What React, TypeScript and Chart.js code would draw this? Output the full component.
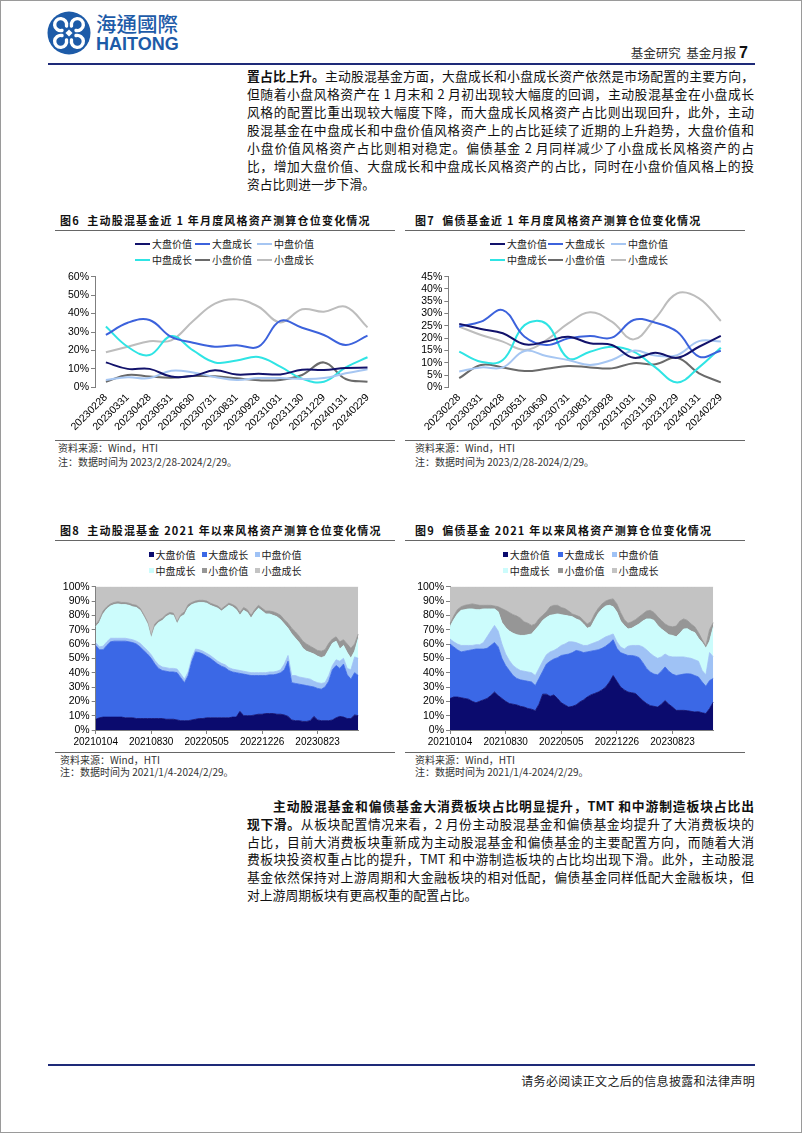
import React, { useEffect, useRef } from 'react';
import { Chart, registerables } from 'chart.js';

Chart.register(...registerables);

const SANS = '"Liberation Sans", Arial, sans-serif';
const CJK = '"Noto Sans CJK SC", "Liberation Sans", sans-serif';

// ---------------- data ----------------
const monthLabels = ['20230228', '20230331', '20230428', '20230531', '20230630', '20230731', '20230831', '20230928', '20231031', '20231130', '20231229', '20240131', '20240229'];
const styleNames = ['大盘价值', '大盘成长', '中盘价值', '中盘成长', '小盘价值', '小盘成长'];
const stackTickLabels = ['20210104', '20210830', '20220505', '20221226', '20230823'];
const stackTickEvery = 15;

// 图6 主动股混基金近1年 (%)
const f6LargeValue = [13.5, 10, 10, 5.8, 6.2, 9.2, 6.9, 7.4, 7, 9.5, 9.4, 10.5, 10.7];
const f6LargeGrowth = [28.4, 35, 36.5, 27.3, 24.2, 22, 22.8, 22, 36, 32.3, 28.4, 23, 28];
const f6MidValue = [4, 5.4, 5, 9, 8, 5.6, 4, 5, 5, 4.5, 5, 7.6, 9.8];
const f6MidGrowth = [33, 22, 17.5, 27.8, 20, 13.5, 14.5, 16.5, 11.2, 4.7, 3, 10.8, 16.3];
const f6SmallValue = [3, 6.7, 5.8, 5.2, 6.1, 6, 4.9, 3.8, 4, 6.7, 13.5, 4.5, 3];
const f6SmallGrowth = [19, 22, 25, 25.5, 36, 45.4, 47.7, 43.7, 35.2, 42.3, 41, 43.7, 32.5];

// 图7 偏债基金近1年 (%)
const f7LargeValue = [25.8, 23.7, 22, 17.5, 18.6, 20.6, 17.9, 17.2, 12, 14.1, 12, 16.5, 20.9];
const f7LargeGrowth = [24.7, 26.7, 31.4, 20.6, 17.2, 19.9, 20.9, 20.2, 27.4, 26.3, 22.6, 12.5, 14.9];
const f7MidValue = [6.4, 8.1, 8.1, 14.8, 12.7, 11.1, 9.1, 11.1, 14.9, 12.9, 13.1, 18.8, 18.6];
const f7MidGrowth = [14.5, 10.4, 11.1, 25.3, 25.8, 11.8, 14.5, 16.5, 14.5, 8.1, 2, 8.1, 16.1];
const f7SmallValue = [3.7, 9.1, 8.1, 6.6, 7.5, 8.7, 8.1, 7.7, 9.8, 9.4, 12, 5.7, 2];
const f7SmallGrowth = [24.7, 21.3, 18.6, 15.2, 19.2, 26, 30.5, 26.7, 19.5, 28.1, 38.2, 36.2, 27];

// 图8 主动股混基金 2021年以来 (%)
const f8LargeValue = [7.5, 8.5, 9, 9, 9, 9, 9, 9, 8.5, 8.5, 8.5, 8, 8, 8, 8, 8, 8, 8, 8, 7.5, 7.5, 7.5, 7, 6.5, 6.5, 6.5, 7, 7.5, 8, 8, 8.5, 8.5, 8.5, 8.5, 8.5, 8.5, 8.5, 9, 9, 13, 10, 10, 10, 10.5, 11, 11, 11.5, 11.5, 11.5, 11, 11, 10.5, 9.5, 7, 6.5, 6.5, 6, 6, 6.5, 9.5, 7, 6.5, 6.5, 6.5, 7, 8.5, 9.5, 9, 8, 8, 10.5, 10];
const f8LargeGrowth = [51.5, 47.5, 47, 50, 52.5, 53, 53, 53, 53.5, 53, 52.5, 52, 50, 47.5, 45, 42, 38, 35, 33.5, 33.5, 33, 33, 33, 30, 26.5, 31.5, 41, 47, 46, 45, 43, 41.5, 39.5, 37.5, 36, 35, 33, 31.5, 31, 26.5, 29, 28.5, 28, 27.5, 27, 27, 26.5, 27, 27, 28, 29, 31.5, 38.5, 26, 26, 25.5, 25.5, 25, 24, 20.5, 22, 22, 23.5, 27.5, 35, 36.5, 33.5, 37, 30.5, 27.5, 29.5, 28];
const f8MidValue = [2, 2, 2.5, 2.5, 2.5, 2, 2, 2, 2, 2, 2, 2, 2.5, 2.5, 2.5, 2.5, 2.5, 2.5, 2.5, 2.5, 2.5, 2.5, 2.5, 2.5, 2.5, 2.5, 2.5, 2, 2, 2, 2, 2, 2, 2, 2, 2, 2, 2, 2, 2, 2, 2, 2, 2, 2, 2, 2, 2, 2, 2, 2, 4, 4, 5, 5.5, 5, 5, 5, 5, 4, 4, 4, 3, 4, 3, 4, 5, 4, 4.5, 6.5, 11, 12];
const f8MidGrowth = [11, 17, 22.5, 23, 22.5, 23.5, 24, 23.5, 23.5, 23.5, 23, 23.5, 23, 21, 18.5, 11.5, 23.5, 29.5, 32.5, 35.5, 37.5, 37, 31.5, 40, 45, 45, 37, 32, 33, 34, 35, 35, 36, 37, 36.5, 39.5, 43.5, 43.5, 42, 38.5, 42.5, 41.5, 38, 42, 45, 43, 41, 40.5, 39.5, 38, 35, 28, 19, 29, 26, 24, 20.5, 19, 18.5, 19, 18.5, 18, 18.5, 18, 15.5, 13, 8.5, 9, 11, 8, 4, 14];
const f8SmallValue = [1.5, 2, 2, 1.5, 1.5, 1.5, 1.5, 1.5, 1.5, 1.5, 1.5, 1.5, 1.5, 1.5, 1.5, 1.5, 2, 1.5, 1.5, 1.5, 1.5, 1.5, 1.5, 1.5, 2, 2, 1.5, 1.5, 1.5, 1.5, 1.5, 1.5, 1.5, 1.5, 1.5, 1.5, 1.5, 1.5, 2, 2, 2, 2, 2, 2, 2, 2, 2, 2, 2.5, 2.5, 3, 3, 3.5, 4, 4.5, 4.5, 5, 5, 4.5, 4, 4, 4.5, 4.5, 4.5, 3, 3, 5, 4, 6, 7, 5, 3];
const f8SmallGrowth = [26.5, 23, 17, 14, 12, 11, 10.5, 11, 11, 11.5, 12.5, 13, 15, 19.5, 24.5, 34.5, 26, 23.5, 22, 19.5, 18, 18.5, 24.5, 19.5, 17.5, 12.5, 11, 10, 9.5, 9.5, 10, 11.5, 12.5, 13.5, 15.5, 13.5, 11.5, 12.5, 14, 18, 14.5, 16, 20, 16, 13, 15, 17, 17, 17.5, 18.5, 20, 23, 25.5, 29, 31.5, 34.5, 38, 40, 41.5, 43, 44.5, 45, 44, 39.5, 36.5, 35, 38.5, 37, 40, 43, 40, 33];

// 图9 偏债基金 2021年以来 (%)
const f9LargeValue = [22, 23, 23, 22.5, 22, 21.5, 20, 19, 20, 21, 22, 24, 26.5, 24, 22, 20, 18.5, 18, 17.5, 16.5, 16, 15, 14.5, 13.5, 18, 25, 25, 23.5, 24.5, 22, 19, 17.5, 16, 16.5, 17.5, 19.5, 21, 23, 24.5, 25.5, 26.5, 28, 30, 33.5, 38, 34, 30, 28, 26.5, 26, 25.5, 23, 20.5, 18.5, 17, 16.5, 16, 18, 20.5, 18, 16, 13.7, 13.7, 13.7, 13.5, 13, 12.6, 12.8, 12, 11.5, 15, 19.5];
const f9LargeGrowth = [38, 35, 33, 32, 33, 34, 36, 37.5, 36.5, 35.5, 35, 35, 34.5, 34, 28, 25, 23, 20, 18.5, 18.5, 18.5, 19, 19, 17.5, 18, 16, 21, 24.5, 25, 28.5, 33, 35, 37, 37.5, 38, 35.5, 33, 31.5, 30.5, 30, 29.5, 29, 28.5, 27, 25, 23, 24, 25, 25.5, 26, 26, 27.5, 26.5, 24.5, 23.5, 22.5, 22.5, 23, 23.5, 23, 23, 24.3, 24.8, 25.3, 25.8, 26, 25.4, 24.2, 21.5, 19, 19.5, 16.5];
const f9MidValue = [3.5, 3.5, 4, 4.5, 4, 3.5, 3, 3, 3, 4.5, 8, 10, 12, 11, 10, 8, 7, 7, 7, 6.5, 6.5, 6.5, 6.5, 7, 7, 7, 6.5, 6.5, 6, 6.5, 7, 7.5, 8.5, 7.5, 5.5, 5, 5, 4.5, 5, 5.5, 6, 6.5, 6.5, 5.5, 4, 4.5, 4, 3.5, 6.5, 7, 7.5, 8.5, 11, 13, 13, 12.5, 11.5, 10, 9, 10.5, 12, 13, 12.5, 12, 11.2, 11, 11, 11, 8, 8, 19.5, 15];
const f9MidGrowth = [8.5, 15.5, 21, 24.5, 25, 25.5, 25.5, 24.5, 24.5, 23.5, 19.5, 15.5, 11.5, 13.5, 15, 18.5, 20.5, 22.5, 23.5, 24.5, 25, 26, 27, 32, 30, 28.5, 26, 25.5, 25, 24, 21.5, 20, 18, 17.5, 16.5, 16.5, 15, 12, 12, 16, 19.5, 21, 21.5, 21, 19, 20.8, 18, 16.5, 12, 12, 13.5, 15, 18, 21.5, 24, 25, 23, 19.5, 15.5, 15, 15, 14, 16.5, 19.5, 20.2, 19, 19, 16, 19.5, 18.5, 8, 21];
const f9SmallValue = [2, 2.5, 3, 2.5, 3, 3, 3.5, 3.5, 3, 2.5, 2.5, 2.5, 2, 3.5, 9.7, 12, 13, 13, 13, 12, 9.5, 8, 6, 4, 4.7, 3.5, 4, 6, 6.5, 6, 5, 4.7, 3.5, 2, 2.5, 2.5, 2.5, 3, 3.5, 4, 3.5, 3.5, 3.5, 4, 5.5, 5.7, 6, 4, 4, 4.5, 4.5, 5, 5, 5.5, 6, 5.5, 6, 6, 5.5, 6, 6, 7.5, 8.5, 7, 5.8, 5, 4, 4, 2, 1.5, 8, 3];
const f9SmallGrowth = [26, 20.5, 16, 14, 13, 12.5, 12, 12.5, 13, 13, 13, 13, 13.5, 14, 15.3, 16.5, 18, 19.5, 20.5, 22, 24.5, 25.5, 27, 26, 22.3, 20, 17.5, 14, 13, 13, 14.5, 15.3, 17, 19, 20, 21, 23.5, 26, 24.5, 19, 15, 12, 10, 9, 8.5, 12, 18, 23, 25.5, 24.5, 23, 21, 19, 17, 16.5, 18, 21, 23.5, 26, 27.5, 28, 27.5, 24, 22.5, 23.5, 26, 28, 32, 37, 41.5, 30, 25];

// ---------------- styles ----------------
const lineColors = ['#12126b', '#3c62dc', '#a6c6f2', '#2fe4e4', '#6a6a6a', '#bdbdbd'];
const areaColors = ['#0b0b6e', '#3b68e6', '#9fc2f5', '#ccfcfc', '#969696', '#c3c3c3'];
const axisGray = '#7f7f7f';

function makeLineConfig(series: number[][], yMax: number, yStep: number, yAxisW: number, padRight: number, xAxisH: number, padTop: number): any {
  return {
    type: 'line',
    data: {
      labels: monthLabels,
      datasets: series.map((d, i) => ({
        label: styleNames[i],
        data: d,
        borderColor: lineColors[i],
        backgroundColor: lineColors[i],
        borderWidth: 2,
        pointRadius: 0,
        tension: 0.4,
        fill: false,
      })),
    },
    options: {
      responsive: false,
      maintainAspectRatio: false,
      animation: false,
      devicePixelRatio: 1,
      layout: { padding: { top: padTop, right: padRight, bottom: 0, left: 0 } },
      plugins: { legend: { display: false }, tooltip: { enabled: false } },
      scales: {
        x: {
          offset: true,
          grid: { display: false, drawTicks: false },
          border: { display: false },
          ticks: { autoSkip: false, minRotation: 45, maxRotation: 45, font: { size: 10.5, family: SANS }, color: '#000', padding: 4 },
          afterFit: (s: any) => { s.height = xAxisH; },
        },
        y: {
          min: 0,
          max: yMax,
          grid: { drawOnChartArea: false, drawTicks: true, tickLength: 4, color: axisGray },
          border: { display: true, color: axisGray },
          ticks: { autoSkip: false, stepSize: yStep, callback: (v: any) => v + '%', font: { size: 10.5, family: SANS }, color: '#000', padding: 2 },
          afterFit: (s: any) => { s.width = yAxisW; },
        },
      },
    },
  };
}

function makeStackConfig(series: number[][], yAxisW: number, padRight: number, xAxisH: number, padTop: number): any {
  const labels = series[0].map((_, i) => (i % stackTickEvery === 0 ? stackTickLabels[i / stackTickEvery] ?? '' : ''));
  return {
    type: 'line',
    data: {
      labels,
      datasets: series.map((d, i) => ({
        label: styleNames[i],
        data: d,
        borderColor: areaColors[i],
        backgroundColor: areaColors[i],
        borderWidth: 0.8,
        pointRadius: 0,
        tension: 0,
        fill: i === 0 ? 'origin' : '-1',
      })),
    },
    options: {
      responsive: false,
      maintainAspectRatio: false,
      animation: false,
      devicePixelRatio: 1,
      layout: { padding: { top: padTop, right: padRight, bottom: 0, left: 0 } },
      plugins: { legend: { display: false }, tooltip: { enabled: false } },
      scales: {
        x: {
          offset: false,
          grid: {
            drawOnChartArea: false,
            drawTicks: true,
            tickLength: 4,
            color: axisGray,
            tickColor: (ctx: any) => (ctx.tick && ctx.tick.label ? axisGray : 'rgba(0,0,0,0)'),
          },
          border: { display: true, color: axisGray },
          ticks: { autoSkip: false, minRotation: 0, maxRotation: 0, font: { size: 10, family: SANS }, color: '#000', padding: 2 },
          afterFit: (s: any) => { s.height = xAxisH; },
        },
        y: {
          stacked: true,
          min: 0,
          max: 100,
          grid: { drawOnChartArea: false, drawTicks: true, tickLength: 4, color: axisGray },
          border: { display: true, color: axisGray },
          ticks: { autoSkip: false, stepSize: 10, callback: (v: any) => v + '%', font: { size: 10.5, family: SANS }, color: '#000', padding: 2 },
          afterFit: (s: any) => { s.width = yAxisW; },
        },
      },
    },
  };
}

function ChartCanvas({ left, top, width, height, build }: { left: number; top: number; width: number; height: number; build: () => any }) {
  const ref = useRef<HTMLCanvasElement>(null);
  useEffect(() => {
    const chart = new Chart(ref.current as HTMLCanvasElement, build());
    return () => chart.destroy();
  }, []);
  return <canvas ref={ref} width={width} height={height} style={{ position: 'absolute', left, top, width, height }} />;
}

function Txt({ x, y, size, children, bold, color, family, ls, lh }: any) {
  const lineH = lh || Math.round(size * 1.4);
  return (
    <div style={{ position: 'absolute', left: x, top: y - lineH / 2, fontSize: size, lineHeight: lineH + 'px', whiteSpace: 'nowrap', fontWeight: bold ? 700 : 400, color: color || '#111', fontFamily: family || CJK, letterSpacing: ls || 0 }}>
      {children}
    </div>
  );
}

function HRule({ x, y, w, h, color }: any) {
  return <div style={{ position: 'absolute', left: x, top: y, width: w, height: h || 1, background: color || '#555' }} />;
}

function LineLegend({ xs, rows }: { xs: number[]; rows: number[] }) {
  return (
    <>
      {styleNames.map((n, i) => {
        const x = xs[i % 3];
        const y = rows[Math.floor(i / 3)];
        return (
          <React.Fragment key={n}>
            <div style={{ position: 'absolute', left: x, top: y - 1.2, width: 15, height: 2.5, background: lineColors[i] }} />
            <Txt x={x + 17} y={y} size={10} color="#222">{n}</Txt>
          </React.Fragment>
        );
      })}
    </>
  );
}

function SquareLegend({ xs, rows }: { xs: number[]; rows: number[] }) {
  return (
    <>
      {styleNames.map((n, i) => {
        const x = xs[i % 3];
        const y = rows[Math.floor(i / 3)];
        return (
          <React.Fragment key={n}>
            <div style={{ position: 'absolute', left: x, top: y - 2.5, width: 5, height: 5, background: areaColors[i] }} />
            <Txt x={x + 6.5} y={y} size={10} color="#222">{n}</Txt>
          </React.Fragment>
        );
      })}
    </>
  );
}

const para1: [string, string][] = [
  ['置占比上升。', '主动股混基金方面，大盘成长和小盘成长资产依然是市场配置的主要方向，'],
  ['', '但随着小盘风格资产在 1 月末和 2 月初出现较大幅度的回调，主动股混基金在小盘成长'],
  ['', '风格的配置比重出现较大幅度下降，而大盘成长风格资产占比则出现回升，此外，主动'],
  ['', '股混基金在中盘成长和中盘价值风格资产上的占比延续了近期的上升趋势，大盘价值和'],
  ['', '小盘价值风格资产占比则相对稳定。偏债基金 2 月同样减少了小盘成长风格资产的占'],
  ['', '比，增加大盘价值、大盘成长和中盘成长风格资产的占比，同时在小盘价值风格上的投'],
  ['', '资占比则进一步下滑。'],
];

const para2: [string, string][] = [
  ['主动股混基金和偏债基金大消费板块占比明显提升，TMT 和中游制造板块占比出', ''],
  ['现下滑。', '从板块配置情况来看，2 月份主动股混基金和偏债基金均提升了大消费板块的'],
  ['', '占比，目前大消费板块重新成为主动股混基金和偏债基金的主要配置方向，而随着大消'],
  ['', '费板块投资权重占比的提升，TMT 和中游制造板块的占比均出现下滑。此外，主动股混'],
  ['', '基金依然保持对上游周期和大金融板块的相对低配，偏债基金同样低配大金融板块，但'],
  ['', '对上游周期板块有更高权重的配置占比。'],
];

function Paragraph({ lines, y0, step, x, right, indent }: { lines: [string, string][]; y0: number; step: number; x: number; right: number; indent: number }) {
  return (
    <>
      {lines.map((ln, i) => {
        const last = i === lines.length - 1;
        const left = i === 0 ? x + indent : x;
        return (
          <div key={i} style={{ position: 'absolute', left, top: y0 + i * step - 9, width: right - left, height: 18, lineHeight: '18px', fontSize: 12.8, color: '#111', textAlign: last ? 'left' : 'justify', textAlignLast: last ? 'left' : 'justify', fontFamily: CJK } as any}>
            {ln[0] ? <b>{ln[0]}</b> : null}
            {ln[1]}
          </div>
        );
      })}
    </>
  );
}

function Logo() {
  const arm = 'M 19.5 15 A 6 6 0 1 0 15 19.5';
  return (
    <>
      <svg style={{ position: 'absolute', left: 47, top: 11 }} width={44} height={44} viewBox="0 0 44 44">
        <circle cx={22} cy={22} r={21.5} fill="#1d5ba8" />
        <g fill="none" stroke="#fff" strokeWidth={3.4} strokeLinecap="round">
          {[0, 90, 180, 270].map((r) => (
            <path key={r} d={arm} transform={`rotate(${r} 22 22)`} />
          ))}
        </g>
        <rect x={19.5} y={19.5} width={5} height={5} fill="#fff" transform="rotate(45 22 22)" />
      </svg>
      <div style={{ position: 'absolute', left: 96, top: 11, fontSize: 20.5, lineHeight: '24px', fontWeight: 500, color: '#1d5ba8', fontFamily: '"Noto Sans CJK TC", "Noto Sans CJK SC", sans-serif', letterSpacing: 0 }}>海通國際</div>
      <div style={{ position: 'absolute', left: 96, top: 34, fontSize: 18, lineHeight: '20px', fontWeight: 700, color: '#1d5ba8', fontFamily: SANS }}>HAITONG</div>
    </>
  );
}

export default function App() {
  return (
    <div style={{ position: 'absolute', left: 0, top: 0, width: 802, height: 1133, background: '#fff', overflow: 'hidden', fontFamily: CJK }}>
      <div style={{ position: 'absolute', left: 0, top: 0, width: 802, height: 1133, boxSizing: 'border-box', border: '1px solid #9a9a9a' }} />
      <Logo />
      <div style={{ position: 'absolute', right: 54, top: 44, fontSize: 12.5, lineHeight: '18px', color: '#333', whiteSpace: 'nowrap' }}>
        基金研究&nbsp;&nbsp;基金月报&nbsp;<span style={{ fontFamily: SANS, fontWeight: 700, fontSize: 16, color: '#111' }}>7</span>
      </div>
      <HRule x={48} y={63} w={707} h={2} color="#1e2a78" />

      <Paragraph lines={para1} y0={76} step={18} x={247} right={754} indent={0} />

      {/* 图6 */}
      <Txt x={60} y={220} size={11} bold ls={1.2} color="#111">图6&nbsp;&nbsp;主动股混基金近 1 年月度风格资产测算仓位变化情况</Txt>
      <HRule x={55} y={230} w={340} color="#666" />
      <LineLegend xs={[135, 195, 257]} rows={[244, 260]} />
      <ChartCanvas left={55} top={265} width={338} height={173} build={() => makeLineConfig([f6LargeValue, f6LargeGrowth, f6MidValue, f6MidGrowth, f6SmallValue, f6SmallGrowth], 60, 10, 40, 14.6, 50.7, 11.7)} />
      <HRule x={55} y={440} w={340} color="#666" />
      <Txt x={58} y={448} size={10} color="#333">资料来源：Wind，HTI</Txt>
      <Txt x={58} y={462} size={10} color="#333">注：数据时间为 2023/2/28-2024/2/29。</Txt>

      {/* 图7 */}
      <Txt x={415} y={220} size={11} bold ls={1.2} color="#111">图7&nbsp;&nbsp;偏债基金近 1 年月度风格资产测算仓位变化情况</Txt>
      <HRule x={405} y={230} w={340} color="#666" />
      <LineLegend xs={[490, 548, 611]} rows={[244, 260]} />
      <ChartCanvas left={405} top={265} width={340} height={173} build={() => makeLineConfig([f7LargeValue, f7LargeGrowth, f7MidValue, f7MidGrowth, f7SmallValue, f7SmallGrowth], 45, 5, 43.3, 13.3, 50.7, 11.7)} />
      <HRule x={405} y={440} w={340} color="#666" />
      <Txt x={415} y={448} size={10} color="#333">资料来源：Wind，HTI</Txt>
      <Txt x={415} y={462} size={10} color="#333">注：数据时间为 2023/2/28-2024/2/29。</Txt>

      {/* 图8 */}
      <Txt x={60} y={530} size={11} bold ls={1.2} color="#111">图8&nbsp;&nbsp;主动股混基金 2021 年以来风格资产测算仓位变化情况</Txt>
      <HRule x={55} y={540} w={340} color="#666" />
      <SquareLegend xs={[149, 201.7, 255]} rows={[554.5, 570.7]} />
      <ChartCanvas left={55} top={575} width={315} height={177} build={() => makeStackConfig([f8LargeValue, f8LargeGrowth, f8MidValue, f8MidGrowth, f8SmallValue, f8SmallGrowth], 40.7, 11.7, 22, 11.7)} />
      <HRule x={55} y={752} w={340} color="#666" />
      <Txt x={60} y={760} size={10} color="#333">资料来源：Wind，HTI</Txt>
      <Txt x={60} y={772} size={10} color="#333">注：数据时间为 2021/1/4-2024/2/29。</Txt>

      {/* 图9 */}
      <Txt x={415} y={530} size={11} bold ls={1.2} color="#111">图9&nbsp;&nbsp;偏债基金 2021 年以来风格资产测算仓位变化情况</Txt>
      <HRule x={405} y={540} w={340} color="#666" />
      <SquareLegend xs={[503.3, 558, 612]} rows={[554.5, 570.7]} />
      <ChartCanvas left={405} top={575} width={320} height={177} build={() => makeStackConfig([f9LargeValue, f9LargeGrowth, f9MidValue, f9MidGrowth, f9SmallValue, f9SmallGrowth], 45, 11.7, 22, 11.7)} />
      <HRule x={405} y={752} w={340} color="#666" />
      <Txt x={415} y={760} size={10} color="#333">资料来源：Wind，HTI</Txt>
      <Txt x={415} y={772} size={10} color="#333">注：数据时间为 2021/1/4-2024/2/29。</Txt>

      <Paragraph lines={para2} y0={806} step={17.8} x={247} right={754} indent={26} />

      <HRule x={48} y={1064} w={707} h={2} color="#1e2a78" />
      <div style={{ position: 'absolute', right: 47, top: 1072, fontSize: 12, lineHeight: '18px', color: '#222', whiteSpace: 'nowrap', letterSpacing: 0.3 }}>请务必阅读正文之后的信息披露和法律声明</div>
    </div>
  );
}
